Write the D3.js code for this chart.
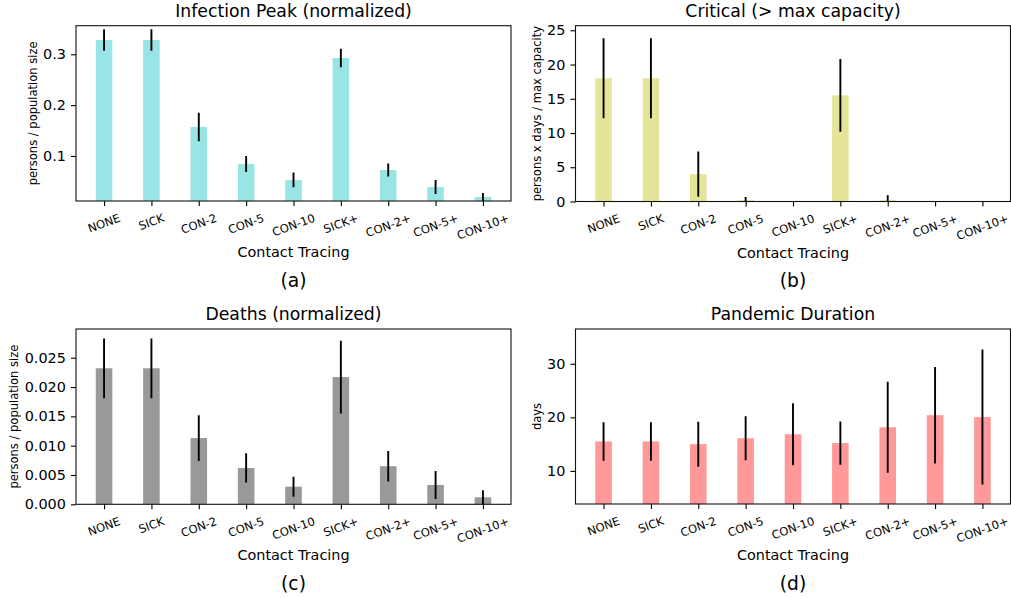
<!DOCTYPE html>
<html>
<head>
<meta charset="utf-8">
<script src="https://cdn.jsdelivr.net/npm/d3@7"></script>
<style>
  body { margin: 0; background: #fff; }
  svg { font-family: "DejaVu Sans", sans-serif; display: block; }
</style>
</head>
<body>
<div id="chart"></div>
<script>
// categories on the x axis (same for all four panels)
const categories = ["NONE", "SICK", "CON-2", "CON-5", "CON-10", "SICK+", "CON-2+", "CON-5+", "CON-10+"];

// (a) infection peak, normalized
const infectionMean = [0.328, 0.328, 0.157, 0.0843, 0.0528, 0.2927, 0.0725, 0.039, 0.0194];
const infectionErr = [0.021, 0.021, 0.028, 0.0157, 0.0145, 0.0184, 0.0128, 0.0138, 0.0078];
const infectionTicks = [0.1, 0.2, 0.3];

// (b) critical above max capacity
const criticalMean = [18.0, 18.0, 4.0, 0.2, 0, 15.5, 0.2, 0, 0];
const criticalErr = [5.85, 5.85, 3.3, 0.46, 0, 5.3, 0.7, 0, 0];
const criticalTicks = [0, 5, 10, 15, 20, 25];

// (c) deaths, normalized
const deathsMean = [0.0232, 0.0232, 0.0113, 0.0062, 0.0030, 0.0217, 0.0065, 0.0033, 0.0012];
const deathsErr = [0.0051, 0.0051, 0.0039, 0.0025, 0.0017, 0.0062, 0.0026, 0.0024, 0.0012];
const deathsTicks = [0, 0.005, 0.01, 0.015, 0.02, 0.025];

// (d) pandemic duration
const durationMean = [15.5, 15.5, 15.0, 16.1, 16.85, 15.2, 18.15, 20.4, 20.05];
const durationErr = [3.6, 3.6, 4.2, 4.1, 5.8, 4.05, 8.5, 9.0, 12.6];
const durationTicks = [10, 20, 30];

const W = 1011, H = 598;
const px = 1.44; // px per pt

const svg = d3.select("#chart")
  .append("svg")
  .attr("width", W)
  .attr("height", H);

const defs = svg.append("defs");

const panels = [
  { id: "a", title: "Infection Peak (normalized)", ylabel: "persons / population size",
    mean: infectionMean, err: infectionErr, ticks: infectionTicks, fmt: d3.format(".1f"),
    domain: [0.0115, 0.3562], color: "#99e5e5",
    box: { left: 76, top: 25.7, right: 511, bottom: 201 } },
  { id: "b", title: "Critical (> max capacity)", ylabel: "persons x days / max capacity",
    mean: criticalMean, err: criticalErr, ticks: criticalTicks, fmt: d3.format("d"),
    domain: [0, 25.67], color: "#e5e599",
    box: { left: 575.5, top: 25.7, right: 1010.5, bottom: 201.5 } },
  { id: "c", title: "Deaths (normalized)", ylabel: "persons / population size",
    mean: deathsMean, err: deathsErr, ticks: deathsTicks, fmt: d3.format(".3f"),
    domain: [0, 0.0299], color: "#999999",
    box: { left: 76, top: 329, right: 511, bottom: 504.3 } },
  { id: "d", title: "Pandemic Duration", ylabel: "days",
    mean: durationMean, err: durationErr, ticks: durationTicks, fmt: d3.format("d"),
    domain: [3.83, 36.49], color: "#ff9999",
    box: { left: 575.5, top: 329, right: 1010.5, bottom: 504 } }
];

panels.forEach(drawPanel);

function drawPanel(p) {
  const b = p.box;
  const g = svg.append("g");

  const x = d3.scalePoint()
    .domain(categories)
    .range([b.left, b.right])
    .padding(0.5925);

  const y = d3.scaleLinear()
    .domain(p.domain)
    .range([b.bottom, b.top]);

  const barW = x.step() * 0.35;

  defs.append("clipPath")
    .attr("id", "clip-" + p.id)
    .append("rect")
    .attr("x", b.left)
    .attr("y", b.top)
    .attr("width", b.right - b.left)
    .attr("height", b.bottom - b.top);

  const plot = g.append("g").attr("clip-path", `url(#clip-${p.id})`);

  const rows = categories.map((c, i) => ({ cat: c, mean: p.mean[i], err: p.err[i] }));

  // bars
  plot.selectAll(".bar")
    .data(rows)
    .enter()
    .append("rect")
    .attr("class", "bar")
    .attr("x", (d) => x(d.cat) - barW / 2)
    .attr("width", barW)
    .attr("y", (d) => y(Math.max(d.mean, p.domain[0])))
    .attr("height", (d) => Math.max(0, y(p.domain[0]) - y(Math.max(d.mean, p.domain[0]))))
    .attr("fill", p.color);

  // error bars
  plot.selectAll(".err")
    .data(rows.filter((d) => d.err > 0))
    .enter()
    .append("line")
    .attr("class", "err")
    .attr("x1", (d) => x(d.cat))
    .attr("x2", (d) => x(d.cat))
    .attr("y1", (d) => y(d.mean - d.err))
    .attr("y2", (d) => y(d.mean + d.err))
    .attr("stroke", "#000")
    .attr("stroke-width", 1.9);

  // y axis
  const yAxis = g.append("g")
    .attr("transform", `translate(${b.left},0)`)
    .call(d3.axisLeft(y).tickValues(p.ticks).tickFormat(p.fmt).tickSize(3.5 * px).tickPadding(3.5 * px));
  yAxis.select(".domain").remove();
  yAxis.selectAll(".tick line").attr("stroke", "#000").attr("stroke-width", 1.1);
  yAxis.selectAll(".tick text")
    .attr("font-size", 10 * px)
    .attr("font-family", "DejaVu Sans")
    .attr("fill", "#000");

  // x axis, labels rotated by hand
  const xAxis = g.append("g")
    .attr("transform", `translate(0,${b.bottom})`)
    .call(d3.axisBottom(x).tickSize(3.5 * px).tickFormat(""));
  xAxis.select(".domain").remove();
  xAxis.selectAll(".tick line").attr("stroke", "#000").attr("stroke-width", 1.1);

  const fs = 8 * px;
  const ang = 20 * Math.PI / 180;
  categories.forEach((c) => {
    const t = g.append("text")
      .attr("text-anchor", "middle")
      .attr("font-size", fs)
      .attr("fill", "#000")
      .text(c);
    const w = t.node().getComputedTextLength();
    const hgt = fs * 1.17;
    const bh = w * Math.sin(ang) + hgt * Math.cos(ang);
    const cx = x(c);
    const cy = b.bottom + 7 * px + bh / 2;
    t.attr("x", cx)
      .attr("y", cy)
      .attr("dy", "0.35em")
      .attr("transform", `rotate(-20,${cx},${cy})`);
  });

  // frame
  g.append("rect")
    .attr("x", b.left)
    .attr("y", b.top)
    .attr("width", b.right - b.left)
    .attr("height", b.bottom - b.top)
    .attr("fill", "none")
    .attr("stroke", "#111")
    .attr("stroke-width", 1.1);

  const cx = (b.left + b.right) / 2;

  g.append("text")
    .attr("x", cx)
    .attr("y", b.top - 9)
    .attr("text-anchor", "middle")
    .attr("font-size", 12 * px)
    .attr("fill", "#000")
    .text(p.title);

  g.append("text")
    .attr("x", cx)
    .attr("y", b.bottom + 51)
    .attr("dy", "0.35em")
    .attr("text-anchor", "middle")
    .attr("font-size", 10 * px)
    .attr("fill", "#000")
    .text("Contact Tracing");

  g.append("text")
    .attr("x", cx)
    .attr("y", b.bottom + 79)
    .attr("dy", "0.35em")
    .attr("text-anchor", "middle")
    .attr("font-size", 18.7)
    .attr("fill", "#000")
    .text(`(${p.id})`);

  // y label placed left of the widest tick label
  let minX = b.left;
  yAxis.selectAll(".tick text").each(function () {
    const bb = this.getBBox();
    minX = Math.min(minX, b.left + bb.x);
  });
  const ly = (b.top + b.bottom) / 2;
  const lx = minX - 4 - 6.5;
  g.append("text")
    .attr("x", lx)
    .attr("y", ly)
    .attr("dy", "0.35em")
    .attr("text-anchor", "middle")
    .attr("font-size", 8 * px)
    .attr("fill", "#000")
    .attr("transform", `rotate(-90,${lx},${ly})`)
    .text(p.ylabel);
}
</script>
</body>
</html>
